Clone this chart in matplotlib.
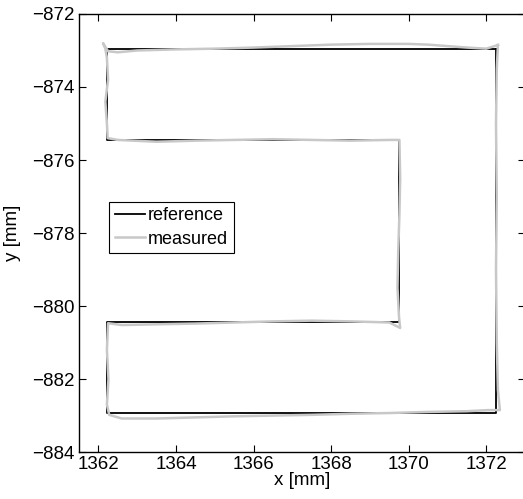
import matplotlib as mpl
mpl.use('Agg')
import matplotlib.pyplot as plt

# reference path (corners)
ref_x = [1372.25, 1362.23, 1362.23, 1369.75, 1369.75, 1362.23, 1362.23, 1372.25, 1372.25]
ref_y = [-872.95, -872.95, -875.45, -875.45, -880.43, -880.43, -882.93, -882.93, -872.95]

# measured path
meas_x = [1372.3, 1372.0, 1371.5, 1371.0, 1370.5, 1370.0, 1369.0, 1368.0, 1367.0, 1366.0,
          1365.0, 1364.0, 1363.0, 1362.5, 1362.25, 1362.12, 1362.18,
          1362.22, 1362.25, 1362.18, 1362.22, 1362.24,
          1362.5, 1363.5, 1364.5, 1365.5, 1366.5, 1367.5, 1368.5, 1369.5, 1369.76,
          1369.78, 1369.76, 1369.73, 1369.71, 1369.75, 1369.78,
          1369.5, 1368.5, 1367.5, 1366.5, 1365.5, 1364.5, 1363.5, 1362.6, 1362.25,
          1362.22, 1362.26, 1362.22, 1362.28,
          1362.6, 1363.5, 1364.5, 1365.5, 1366.5, 1367.5, 1368.5, 1369.5, 1370.5, 1371.5,
          1372.05, 1372.35,
          1372.3, 1372.27, 1372.25, 1372.27, 1372.25, 1372.27, 1372.3]
meas_y = [-872.85, -872.95, -872.92, -872.88, -872.84, -872.82, -872.82, -872.84, -872.88, -872.92,
          -872.95, -872.97, -873.0, -873.05, -873.02, -872.8, -872.95,
          -873.2, -873.8, -874.4, -875.0, -875.4,
          -875.45, -875.5, -875.47, -875.45, -875.43, -875.45, -875.47, -875.45, -875.45,
          -876.5, -877.5, -878.5, -879.5, -880.3, -880.6,
          -880.45, -880.42, -880.4, -880.42, -880.45, -880.48, -880.5, -880.52, -880.47,
          -881.2, -882.0, -882.7, -882.98,
          -883.08, -883.08, -883.05, -883.02, -883.0, -882.98, -882.95, -882.93, -882.9, -882.88,
          -882.85, -882.85,
          -882.3, -881.0, -879.0, -877.0, -875.0, -873.5, -872.85]

x_ticks = [1362, 1364, 1366, 1368, 1370, 1372]
y_ticks = [-884, -882, -880, -878, -876, -874, -872]

plt.rcParams['font.family'] = ['Liberation Sans', 'DejaVu Sans']
plt.rcParams['axes.unicode_minus'] = True

fig = plt.figure(figsize=(5.23, 4.99), dpi=100)
ax = fig.add_axes([0.151, 0.094, 0.853, 0.878])

ax.plot(ref_x, ref_y, color='black', lw=1.3, label='reference')
ax.plot(meas_x, meas_y, color='#c8c8c8', lw=1.8, label='measured')

ax.set_xlim(1361.5, 1373.0)
ax.set_ylim(-884, -872)
ax.set_xticks(x_ticks)
ax.set_yticks(y_ticks)
ax.tick_params(direction='in', top=True, right=True, labelsize=13.5, length=5, width=0.8, pad=3)
for s in ax.spines.values():
    s.set_linewidth(1.0)

ax.set_xlabel('x [mm]', fontsize=13.5, labelpad=-1)
ax.set_ylabel('y [mm]', fontsize=13.5, labelpad=8)

leg = ax.legend(loc='upper left', bbox_to_anchor=(0.068, 0.571), fontsize=13,
                frameon=True, fancybox=False, edgecolor='black', framealpha=1,
                handlelength=1.7, handletextpad=0.15, borderpad=0.3, labelspacing=0.35,
                borderaxespad=0)
leg.get_frame().set_linewidth(0.8)

fig.savefig('out.png', dpi=100)
